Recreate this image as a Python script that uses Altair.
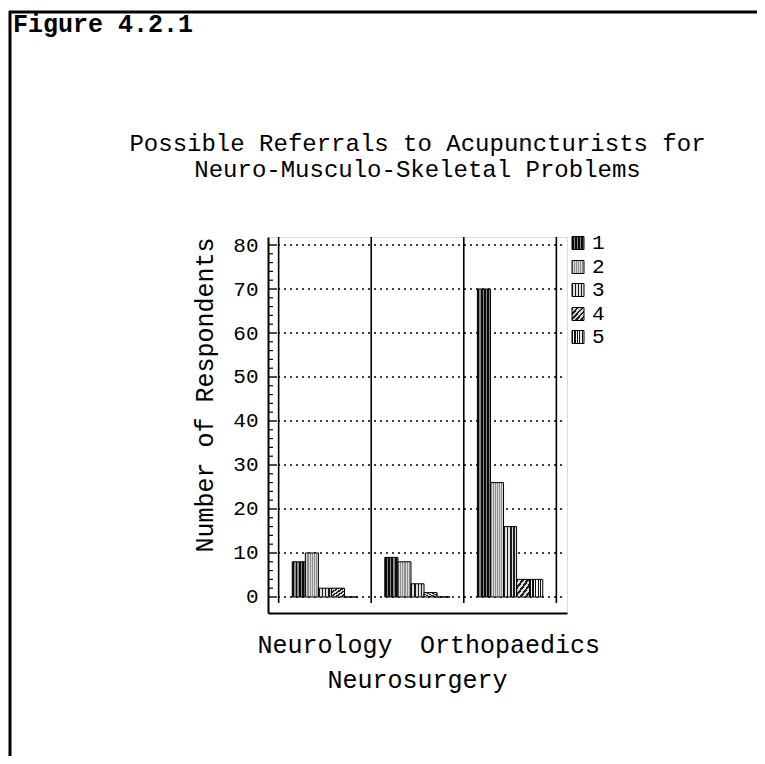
import altair as alt
import pandas as pd

# ---- data ----
groups = ["Neurology", "Neurosurgery", "Orthopaedics"]
series_names = ["1", "2", "3", "4", "5"]
values = {
    "1": [8, 9, 70],
    "2": [10, 8, 26],
    "3": [2, 3, 16],
    "4": [2, 1, 4],
    "5": [0, 0, 4],
}
label_rows = [0, 1, 0]  # staggered category labels
y_tick_labels = [0, 10, 20, 30, 40, 50, 60, 70, 80]
minor_ticks = list(range(0, 82, 2))

title_lines = ["Possible Referrals to Acupuncturists for",
               "Neuro-Musculo-Skeletal Problems"]
fig_label = "Figure 4.2.1"
y_title = "Number of Respondents"

FONT = "Liberation Mono"

rows = []
for s in series_names:
    for g, v in zip(groups, values[s]):
        rows.append({"group": g, "series": s, "value": v})
df = pd.DataFrame(rows)

W, H = 299, 376
ydom = [-3.64, 81.82]

xscale = alt.Scale(domain=groups, paddingInner=0, paddingOuter=0.115)
yscale = alt.Scale(domain=ydom, nice=False, zero=False)
# two empty slots either side keep the bars in the middle 70% of each group
xoff_scale = alt.Scale(domain=["_l"] + series_names + ["_r"], paddingInner=0, paddingOuter=0.04)


def stripes(c1, c2, n, frac=0.5, x2=1, y2=0):
    stops = []
    for i in range(n):
        a = i / n
        m = (i + frac) / n
        b = (i + 1) / n
        stops += [alt.GradientStop(color=c1, offset=a),
                  alt.GradientStop(color=c1, offset=m),
                  alt.GradientStop(color=c2, offset=m),
                  alt.GradientStop(color=c2, offset=b)]
    return alt.LinearGradient(gradient="linear", stops=stops, x1=0, y1=0, x2=x2, y2=y2)


fills = {
    "1": stripes("#0a0a0a", "#8a8a8a", 4, frac=0.6),
    "2": stripes("#8f8f8f", "#d8d8d8", 6),
    "3": stripes("#1a1a1a", "#e0e0e0", 4, frac=0.45),
    "4": stripes("#222222", "#dddddd", 5, x2=1, y2=1),
    "5": stripes("#111111", "#f4f4f4", 5),
}

base = alt.Chart(df)

layers = []

# dotted gridlines (carry the y axis)
grid_df = pd.DataFrame({"v": y_tick_labels})
layers.append(
    alt.Chart(grid_df).mark_rule(color="black", strokeWidth=1.6, strokeDash=[2, 4]).encode(
        y=alt.Y("v:Q", scale=yscale, axis=alt.Axis(
            values=y_tick_labels, ticks=False, grid=False, title=None,
            labelFont=FONT, labelFontSize=21, labelColor="black", labelPadding=10,
            domainColor="black", domainWidth=2)),
        x=alt.value(10), x2=alt.value(294),
    )
)

# inner ticks on the y axis
tick_df = pd.DataFrame({"v": minor_ticks, "major": [v % 10 == 0 for v in minor_ticks]})
layers.append(
    alt.Chart(tick_df).transform_filter("!datum.major").mark_rule(color="black", strokeWidth=1.2).encode(
        y=alt.Y("v:Q", scale=yscale), x=alt.value(0), x2=alt.value(5)))
layers.append(
    alt.Chart(tick_df).transform_filter("datum.major").mark_rule(color="black", strokeWidth=1.4).encode(
        y=alt.Y("v:Q", scale=yscale), x=alt.value(0), x2=alt.value(9)))

# group dividers
div_df = pd.DataFrame({"group": groups})
layers.append(
    alt.Chart(div_df).mark_rule(color="black", strokeWidth=1.6).encode(
        x=alt.X("group:N", scale=xscale, bandPosition=0),
        y=alt.value(0), y2=alt.value(366)))
layers.append(
    alt.Chart(div_df).transform_filter(alt.datum.group == groups[-1]).mark_rule(color="black", strokeWidth=1.6).encode(
        x=alt.X("group:N", scale=xscale, bandPosition=1),
        y=alt.value(0), y2=alt.value(366)))

# bars (one layer per series for the hatch-like fills) + manual legend
leg_y = [6, 30, 53, 77, 100]
for s, ly in zip(series_names, leg_y):
    layers.append(
        base.transform_filter(alt.datum.series == s).mark_bar(
            fill=fills[s], stroke="black", strokeWidth=1).encode(
            x=alt.X("group:N", scale=xscale, axis=alt.Axis(
                title=None, labels=False, ticks=False, domainColor="black", domainWidth=2)),
            xOffset=alt.XOffset("series:N", scale=xoff_scale),
            y=alt.Y("value:Q", scale=yscale),
            y2=alt.Y2(datum=0),
        )
    )
    leg_df = pd.DataFrame({"series": [s]})
    layers.append(
        alt.Chart(leg_df).mark_rect(fill=fills[s], stroke="black", strokeWidth=1).encode(
            x=alt.value(304), x2=alt.value(316), y=alt.value(ly - 6.5), y2=alt.value(ly + 6.5)))
    layers.append(
        alt.Chart(leg_df).mark_text(font=FONT, fontSize=21, align="left", baseline="middle", color="black").encode(
            x=alt.value(324), y=alt.value(ly), text="series:N"))

# staggered category labels
lab_df = pd.DataFrame({"group": groups, "row": label_rows})
for r, yy in [(0, 408), (1, 443)]:
    layers.append(
        alt.Chart(lab_df).transform_filter(alt.datum.row == r).mark_text(
            font=FONT, fontSize=25, baseline="middle", color="black").encode(
            x=alt.X("group:N", scale=xscale),
            y=alt.value(yy),
            text="group:N"))

# title lines
for line, yy in zip(title_lines, [-93, -67]):
    layers.append(
        alt.Chart(pd.DataFrame({"t": [line]})).mark_text(
            font=FONT, fontSize=24, baseline="middle", color="black").encode(
            x=alt.value(W / 2), y=alt.value(yy), text="t:N"))

# y axis title
layers.append(
    alt.Chart(pd.DataFrame({"t": [y_title]})).mark_text(
        font=FONT, fontSize=25, angle=270, baseline="middle", color="black").encode(
        x=alt.value(-63), y=alt.value(158), text="t:N"))

# figure label
layers.append(
    alt.Chart(pd.DataFrame({"t": [fig_label]})).mark_text(
        font=FONT, fontSize=25, fontWeight="bold", align="left", baseline="middle", color="black").encode(
        x=alt.value(-255), y=alt.value(-213), text="t:N"))

# page frame (top and left edges)
layers.append(
    alt.Chart(pd.DataFrame({"a": [0]})).mark_rule(color="black", strokeWidth=3).encode(
        x=alt.value(-259), x2=alt.value(500), y=alt.value(-225)))
layers.append(
    alt.Chart(pd.DataFrame({"a": [0]})).mark_rule(color="black", strokeWidth=3).encode(
        x=alt.value(-258), y=alt.value(-226), y2=alt.value(540)))

chart = alt.layer(*layers).properties(
    width=W, height=H,
    autosize=alt.AutoSizeParams(type="none"),
    padding={"left": 260, "top": 229, "right": 190, "bottom": 143},
).configure_view(stroke=None).configure(background="white")

chart.save("out.html", embed_options={"renderer": "svg", "actions": False})
